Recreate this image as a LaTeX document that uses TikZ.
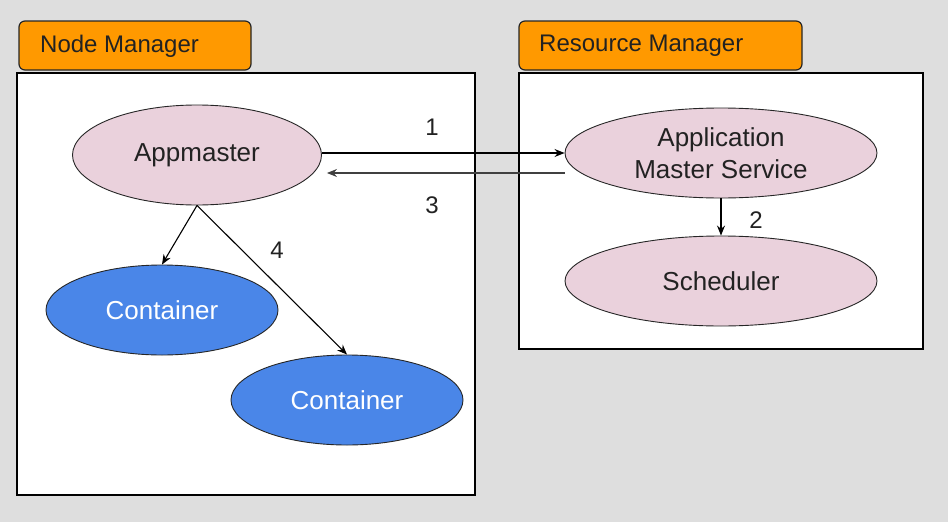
\documentclass[tikz,border=0pt]{standalone}
\usepackage{fontspec}
\setmainfont{Liberation Sans}
\usetikzlibrary{shapes.geometric,arrows.meta}
\definecolor{bgg}{HTML}{DEDEDE}
\definecolor{hdr}{HTML}{FF9900}
\definecolor{pnk}{HTML}{EAD1DC}
\definecolor{blu}{HTML}{4A86E8}
\definecolor{txt}{HTML}{222222}
\begin{document}
\begin{tikzpicture}[x=1pt,y=-1pt,
  hbox/.style={draw=black!85,line width=1.2pt,fill=hdr,rounded corners=6pt},
  frame/.style={draw=black,line width=1.6pt,fill=white},
  htext/.style={anchor=west,text=txt,font=\fontsize{24}{28}\selectfont,inner sep=0pt},
  ell/.style={ellipse,draw=black!85,line width=0.9pt,inner sep=0pt,font=\fontsize{26}{32}\selectfont,align=center},
  pell/.style={ell,fill=pnk,text=txt},
  bell/.style={ell,fill=blu,text=white},
  arr/.style={-{Stealth[length=10pt,width=8pt]},line width=1.1pt,black},
  num/.style={text=txt,font=\fontsize{24}{28}\selectfont,inner sep=0pt}]
\fill[bgg] (0,0) rectangle (948,522);
\useasboundingbox (0,0) rectangle (948,522);
% Node Manager
\draw[hbox] (19,21) rectangle (251,70);
\node[htext] (nmt) at (40,46) {Node Manager};
\draw[frame] (17,73) rectangle (475,495);
% Resource Manager
\draw[hbox] (519,21) rectangle (802,70);
\node[htext] (rmt) at (539,46) {Resource Manager};
\draw[frame] (519,73) rectangle (923,349);
% nodes
\node[pell,minimum width=249pt,minimum height=100pt] (am) at (197,155) {Appmaster};
\node[pell,minimum width=312pt,minimum height=90pt] (ams) at (721,153) {Application\\Master Service};
\node[pell,minimum width=312pt,minimum height=90pt] (sch) at (721,281) {Scheduler};
\node[bell,minimum width=232pt,minimum height=90pt] (c1) at (162,310) {Container};
\node[bell,minimum width=232pt,minimum height=90pt] (c2) at (347,400) {Container};
% connectors
\draw[arr] ([yshift=2pt]am.east) -- ([yshift=2pt]am.east -| ams.west);
\draw[arr,draw=black!75] ([yshift=-20pt]ams.west) -- ([yshift=-18pt,xshift=5pt]am.east);
\draw[arr] (ams.south) -- (sch.north);
\draw[arr] (am.south) -- (c1.north);
\draw[arr] (am.south) -- (c2.north);
% labels
\node[num] (l1) at (432,127) {1};
\node[num] (l3) at (432,205) {3};
\node[num] (l2) at (756,220) {2};
\node[num] (l4) at (277,250) {4};
\end{tikzpicture}
\end{document}
